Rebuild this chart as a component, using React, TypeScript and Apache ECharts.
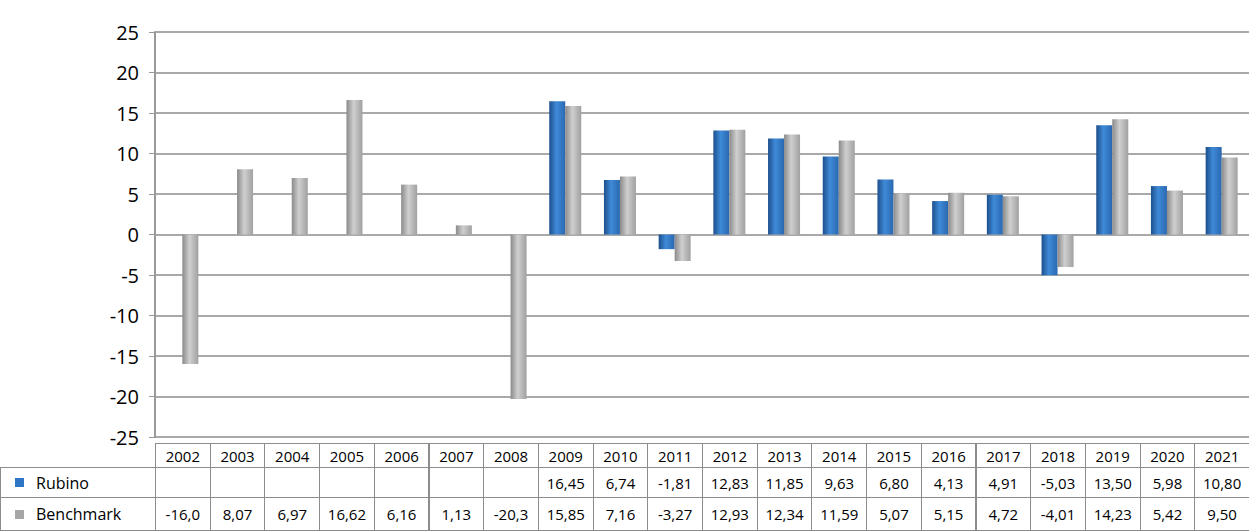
import React, { useEffect, useRef } from 'react';
import * as echarts from 'echarts';

const years = ['2002', '2003', '2004', '2005', '2006', '2007', '2008', '2009', '2010', '2011', '2012', '2013', '2014', '2015', '2016', '2017', '2018', '2019', '2020', '2021'];
const rubino: (number | null)[] = [null, null, null, null, null, null, null, 16.45, 6.74, -1.81, 12.83, 11.85, 9.63, 6.80, 4.13, 4.91, -5.03, 13.50, 5.98, 10.80];
const benchmark = [-16.0, 8.07, 6.97, 16.62, 6.16, 1.13, -20.3, 15.85, 7.16, -3.27, 12.93, 12.34, 11.59, 5.07, 5.15, 4.72, -4.01, 14.23, 5.42, 9.50];
const benchmarkLabels = ['-16,0', '8,07', '6,97', '16,62', '6,16', '1,13', '-20,3', '15,85', '7,16', '-3,27', '12,93', '12,34', '11,59', '5,07', '5,15', '4,72', '-4,01', '14,23', '5,42', '9,50'];
const fmt = (v: number | null) => (v === null ? '' : v.toFixed(2).replace('.', ','));

const LEFT = 155;
const COL = (1249 - LEFT) / 20;

const cyl = (dark: string, mid: string, light: string) =>
  new echarts.graphic.LinearGradient(0, 0, 1, 0, [
    { offset: 0, color: dark },
    { offset: 0.45, color: light },
    { offset: 1, color: mid }
  ]);

export default function App() {
  const chartRef = useRef<HTMLDivElement>(null);

  useEffect(() => {
    document.body.style.margin = '0';
    if (!chartRef.current) return;
    const chart = echarts.init(chartRef.current, null, { renderer: 'svg' });
    chart.setOption({
      animation: false,
      grid: { left: LEFT, right: 0, top: 32, bottom: 13 },
      xAxis: {
        type: 'category',
        data: years,
        axisLabel: { show: false },
        axisTick: { show: false },
        axisLine: { show: false }
      },
      yAxis: {
        type: 'value',
        min: -25,
        max: 25,
        interval: 5,
        axisLine: { show: true, lineStyle: { color: '#999', width: 2 } },
        axisTick: { show: true, length: 6, lineStyle: { color: '#999' } },
        axisLabel: { fontSize: 20, color: '#000', fontFamily: 'Open Sans', margin: 16 },
        splitLine: { lineStyle: { color: '#8c8c8c', width: 1.5 } }
      },
      series: [
        {
          name: 'Rubino',
          type: 'bar',
          data: rubino,
          barWidth: 16,
          barGap: '0%',
          itemStyle: { color: cyl('#1c4f8c', '#2a68b0', '#3f8ad8') }
        },
        {
          name: 'Benchmark',
          type: 'bar',
          data: benchmark,
          barWidth: 16,
          itemStyle: { color: cyl('#8a8a8a', '#a0a0a0', '#cfcfcf') }
        }
      ]
    });
    return () => chart.dispose();
  }, []);

  const cell: React.CSSProperties = {
    position: 'absolute',
    boxSizing: 'border-box',
    border: '1px solid #8c8c8c',
    fontFamily: 'Open Sans',
    fontSize: 15,
    display: 'flex',
    alignItems: 'center',
    justifyContent: 'center',
    whiteSpace: 'nowrap'
  };
  const rows = [
    { y: 443, h: 25 },
    { y: 467, h: 31 },
    { y: 497, h: 34 }
  ];
  const cells: React.ReactNode[] = [];
  years.forEach((yr, i) => {
    const x = LEFT + i * COL;
    cells.push(<div key={'y' + i} style={{ ...cell, left: x, top: rows[0].y, width: COL + 1, height: rows[0].h }}>{yr}</div>);
    cells.push(<div key={'r' + i} style={{ ...cell, left: x, top: rows[1].y, width: COL + 1, height: rows[1].h }}>{fmt(rubino[i])}</div>);
    cells.push(<div key={'b' + i} style={{ ...cell, left: x, top: rows[2].y, width: COL + 1, height: rows[2].h }}>{benchmarkLabels[i]}</div>);
  });
  const legend = (name: string, color: string, r: { y: number; h: number }) => (
    <div key={name} style={{ ...cell, left: 0, top: r.y, width: LEFT + 1, height: r.h, justifyContent: 'flex-start', paddingLeft: 14, fontSize: 16 }}>
      <span style={{ display: 'inline-block', width: 9, height: 9, background: color, marginRight: 12 }} />
      {name}
    </div>
  );

  return (
    <div style={{ position: 'relative', width: 1249, height: 531, overflow: 'hidden', background: '#fff' }}>
      <div ref={chartRef} style={{ position: 'absolute', left: 0, top: 0, width: 1249, height: 450 }} />
      {cells}
      {legend('Rubino', '#2e75c6', rows[1])}
      {legend('Benchmark', '#a6a6a6', rows[2])}
    </div>
  );
}
